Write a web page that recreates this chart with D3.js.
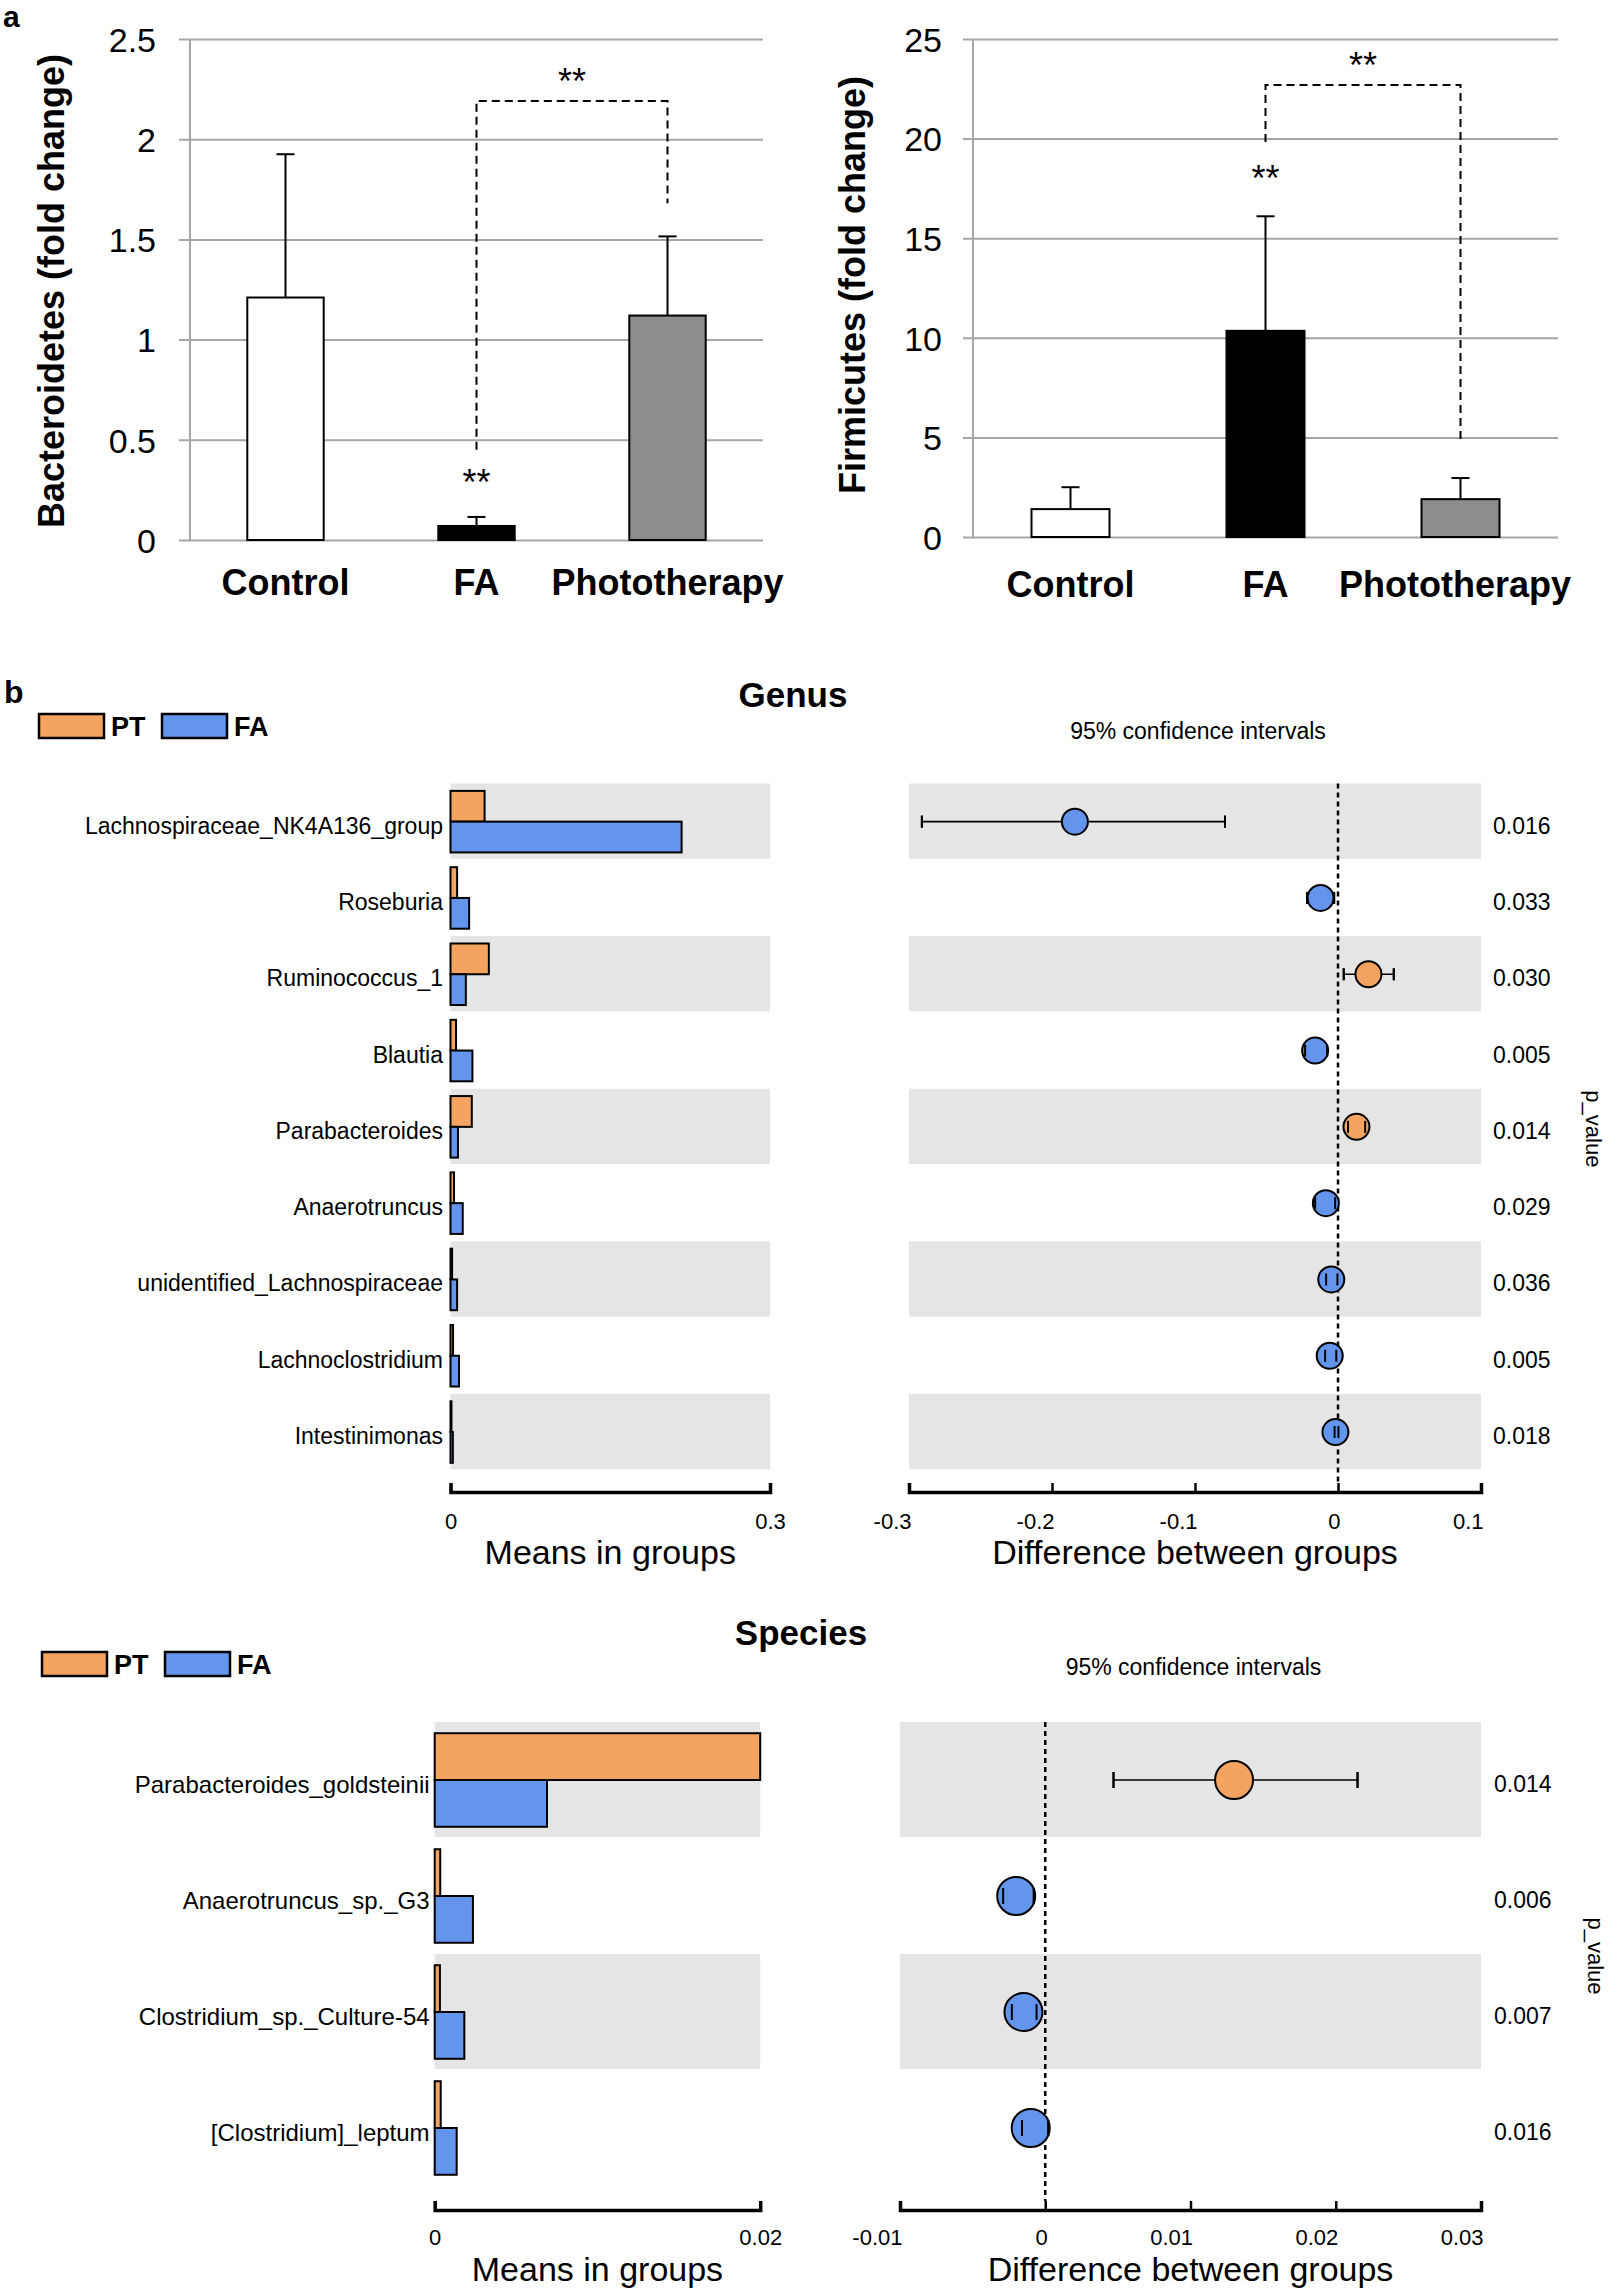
<!DOCTYPE html>
<html>
<head>
<meta charset="utf-8">
<script src="https://cdn.jsdelivr.net/npm/d3@7"></script>
<style>
  body { margin: 0; background: #fff; }
  svg { display: block; font-family: Arial, "Liberation Sans", sans-serif; }
</style>
</head>
<body>
<div id="chart"></div>
<script>
// ---- panel a: phylum fold changes
const groups = ["Control", "FA", "Phototherapy"];
const bactMean = [1.21, 0.07, 1.12];
const bactSD = [0.715, 0.045, 0.395];
const bactTicks = [0, 0.5, 1, 1.5, 2, 2.5];
const firmMean = [1.4, 10.35, 1.9];
const firmSD = [1.1, 5.75, 1.06];
const firmTicks = [0, 5, 10, 15, 20, 25];
// bracket: [from value at FA, top value, to value at Phototherapy]
const bactBracket = [0.45, 2.19, 1.68];
const firmBracket = [19.83, 22.69, 4.82];
// star annotations: [value above FA, value above bracket]
const bactStars = [0.31, 2.31];
const firmStars = [18.2, 23.9];

// ---- panel b: genus
const genusNames = ["Lachnospiraceae_NK4A136_group", "Roseburia", "Ruminococcus_1", "Blautia",
  "Parabacteroides", "Anaerotruncus", "unidentified_Lachnospiraceae", "Lachnoclostridium", "Intestinimonas"];
const genusPT = [0.032, 0.0062, 0.036, 0.0052, 0.020, 0.0033, 0.0015, 0.0024, 0.0009];
const genusFA = [0.217, 0.0175, 0.0144, 0.0206, 0.007, 0.0115, 0.0062, 0.008, 0.0022];
const genusDiff = [-0.184, -0.0122, 0.0213, -0.016, 0.0129, -0.0085, -0.0047, -0.0058, -0.0018];
const genusLo = [-0.291, -0.0216, 0.004, -0.023, 0.007, -0.016, -0.0083, -0.009, -0.0024];
const genusHi = [-0.079, -0.0027, 0.039, -0.0076, 0.019, -0.002, -0.0004, -0.0012, 0.0003];
const genusP = ["0.016", "0.033", "0.030", "0.005", "0.014", "0.029", "0.036", "0.005", "0.018"];
const genusMeanTicks = [0, 0.3];
const genusDiffTicks = [-0.3, -0.2, -0.1, 0, 0.1];

// ---- panel b: species
const speciesNames = ["Parabacteroides_goldsteinii", "Anaerotruncus_sp._G3", "Clostridium_sp._Culture-54", "[Clostridium]_leptum"];
const speciesPT = [0.0200, 0.00034, 0.00032, 0.00037];
const speciesFA = [0.0069, 0.00235, 0.00182, 0.00135];
const speciesDiff = [0.0130, -0.0020, -0.0015, -0.0010];
const speciesLo = [0.0047, -0.0029, -0.0023, -0.0016];
const speciesHi = [0.0215, -0.0008, -0.0006, 0.0002];
const speciesP = ["0.014", "0.006", "0.007", "0.016"];
const speciesMeanTicks = [0, 0.02];
const speciesDiffTicks = [-0.01, 0, 0.01, 0.02, 0.03];

const ORANGE = "#f4a460", BLUE = "#6495ed", BAND = "#e5e5e5", GRID = "#a6a6a6";

const svg = d3.select("#chart").append("svg")
    .attr("width", 1611)
    .attr("height", 2293);

function phylaChart(c) {
    const x = d3.scaleBand().domain(groups).range([c.x0, c.x1]).paddingInner(0.6).paddingOuter(0.3);
    const y = d3.scaleLinear().domain([0, c.ticks[c.ticks.length - 1]]).range([c.yBottom, c.yTop]);
    const g = svg.append("g");

    const ya = g.append("g")
        .attr("transform", `translate(${c.gridLeft},0)`)
        .call(d3.axisLeft(y).tickValues(c.ticks).tickSize(-(c.x1 - c.gridLeft)).tickPadding(c.gridLeft - c.labelX).tickFormat(d => d));
    ya.select(".domain").remove();
    ya.selectAll(".tick line").attr("stroke", GRID).attr("stroke-width", 2);
    ya.selectAll(".tick text").attr("font-size", 34).attr("fill", "#000").attr("dy", "0.36em");

    g.append("line")
        .attr("x1", c.x0).attr("x2", c.x0)
        .attr("y1", y.range()[1]).attr("y2", y.range()[0])
        .attr("stroke", GRID).attr("stroke-width", 2);

    const fills = ["#ffffff", "#000000", "#8c8c8c"];
    // error bars (upper only)
    g.selectAll(".err").data(groups).enter().append("line")
        .attr("x1", d => x(d) + x.bandwidth() / 2).attr("x2", d => x(d) + x.bandwidth() / 2)
        .attr("y1", (d, i) => y(c.means[i])).attr("y2", (d, i) => y(c.means[i] + c.sds[i]))
        .attr("stroke", "#000").attr("stroke-width", 2);
    g.selectAll(".cap").data(groups).enter().append("line")
        .attr("x1", d => x(d) + x.bandwidth() / 2 - 9).attr("x2", d => x(d) + x.bandwidth() / 2 + 9)
        .attr("y1", (d, i) => y(c.means[i] + c.sds[i])).attr("y2", (d, i) => y(c.means[i] + c.sds[i]))
        .attr("stroke", "#000").attr("stroke-width", 2);

    g.selectAll(".bar").data(groups).enter().append("rect")
        .attr("x", d => x(d))
        .attr("width", x.bandwidth())
        .attr("y", (d, i) => y(c.means[i]))
        .attr("height", (d, i) => y(0) - y(c.means[i]))
        .attr("fill", (d, i) => fills[i])
        .attr("stroke", "#000").attr("stroke-width", 2);

    g.selectAll(".xlab").data(groups).enter().append("text")
        .attr("x", d => x(d) + x.bandwidth() / 2)
        .attr("y", c.labelBaseline)
        .attr("text-anchor", "middle")
        .attr("font-size", 36).attr("font-weight", "bold")
        .text(d => d)
        .each(function () {
            // keep the label inside the figure's right margin
            const w = this.getComputedTextLength();
            const cx = +this.getAttribute("x");
            if (cx + w / 2 > c.labelMaxX) this.setAttribute("x", c.labelMaxX - w / 2);
        });

    g.append("text")
        .attr("transform", `translate(${c.titleX},${c.titleY}) rotate(-90)`)
        .attr("text-anchor", "middle").attr("dominant-baseline", "central")
        .attr("font-size", 36).attr("font-weight", "bold")
        .text(c.title);

    // significance bracket
    const fx = x("FA") + x.bandwidth() / 2, tx = x("Phototherapy") + x.bandwidth() / 2;
    g.append("path")
        .attr("d", `M${fx},${y(c.bracket[0])}V${y(c.bracket[1])}H${tx}V${y(c.bracket[2])}`)
        .attr("fill", "none").attr("stroke", "#000").attr("stroke-width", 2)
        .attr("stroke-dasharray", "8,5");
    g.append("text")
        .attr("x", fx).attr("y", y(c.stars[0]) + 17)
        .attr("text-anchor", "middle").attr("font-size", 36).text("**");
    g.append("text")
        .attr("x", (fx + tx) / 2).attr("y", y(c.stars[1]) + 17)
        .attr("text-anchor", "middle").attr("font-size", 36).text("**");
}

phylaChart({ means: bactMean, sds: bactSD, ticks: bactTicks, x0: 190, x1: 763, gridLeft: 179, labelX: 156,
    yBottom: 540, yTop: 39, title: "Bacteroidetes (fold change)", titleX: 51, titleY: 291, labelBaseline: 595,
    labelMaxX: 785, bracket: bactBracket, stars: bactStars });
phylaChart({ means: firmMean, sds: firmSD, ticks: firmTicks, x0: 973, x1: 1558, gridLeft: 963, labelX: 942,
    yBottom: 537, yTop: 39, title: "Firmicutes (fold change)", titleX: 852, titleY: 285, labelBaseline: 597,
    labelMaxX: 1571, bracket: firmBracket, stars: firmStars });

svg.append("text").attr("x", 3).attr("y", 27).attr("font-size", 30).attr("font-weight", "bold").text("a");
svg.append("text").attr("x", 4).attr("y", 703).attr("font-size", 32).attr("font-weight", "bold").text("b");

function diffPanel(c) {
    const n = c.names.length;
    const g = svg.append("g");
    const y = d3.scaleBand().domain(c.names).range([c.rowTop, c.rowTop + c.rowStep * n]).padding(0);
    const inner = d3.scaleBand().domain(["PT", "FA"]).range([0, y.bandwidth()]).paddingInner(0).paddingOuter(0.24);
    const xl = d3.scaleLinear().domain(c.meanTicks).range(c.leftRange);
    const xr = d3.scaleLinear().domain([c.diffTicks[0], c.diffTicks[c.diffTicks.length - 1]]).range(c.rightRange);
    const mid = d => y(d) + y.bandwidth() / 2;

    // title, legend, CI caption
    g.append("text").attr("x", c.titleX).attr("y", c.titleY).attr("text-anchor", "middle")
        .attr("font-size", 35).attr("font-weight", "bold").text(c.title);
    const leg = [["PT", ORANGE], ["FA", BLUE]];
    g.selectAll(".legbox").data(leg).enter().append("rect")
        .attr("x", (d, i) => c.legX + i * 123).attr("y", c.legY)
        .attr("width", 65).attr("height", 24)
        .attr("fill", d => d[1]).attr("stroke", "#000").attr("stroke-width", 2.5);
    g.selectAll(".legtext").data(leg).enter().append("text")
        .attr("x", (d, i) => c.legX + 72 + i * 123).attr("y", c.legY + 22)
        .attr("font-size", 27).attr("font-weight", "bold").text(d => d[0]);
    g.append("text").attr("x", (c.rightRange[0] + c.rightRange[1]) / 2 + 3).attr("y", c.ciY)
        .attr("text-anchor", "middle").attr("font-size", 23).text("95% confidence intervals");

    // grey row bands
    const banded = c.names.filter((d, i) => i % 2 === 0);
    [c.leftRange, c.rightRange].forEach(r => {
        g.selectAll(null).data(banded).enter().append("rect")
            .attr("x", r[0]).attr("width", r[1] - r[0])
            .attr("y", d => y(d)).attr("height", y.bandwidth() - 1)
            .attr("fill", BAND);
    });

    // mean bars
    const bars = [];
    c.names.forEach((d, i) => {
        bars.push({ name: d, grp: "PT", v: c.pt[i] });
        bars.push({ name: d, grp: "FA", v: c.fa[i] });
    });
    g.selectAll(".mbar").data(bars).enter().append("rect")
        .attr("x", xl(0))
        .attr("width", d => Math.max(xl(d.v) - xl(0), 0.5))
        .attr("y", d => y(d.name) + inner(d.grp))
        .attr("height", inner.bandwidth())
        .attr("fill", d => d.grp === "PT" ? ORANGE : BLUE)
        .attr("stroke", "#000").attr("stroke-width", 2);

    g.selectAll(".rlab").data(c.names).enter().append("text")
        .attr("x", c.labelX).attr("y", d => mid(d) + 4)
        .attr("text-anchor", "end").attr("dominant-baseline", "central")
        .attr("font-size", c.labelSize).text(d => d);

    // zero line
    g.append("line")
        .attr("x1", xr(0)).attr("x2", xr(0))
        .attr("y1", c.rowTop).attr("y2", c.axisY - 9)
        .attr("stroke", "#000").attr("stroke-width", 2.5).attr("stroke-dasharray", "5,4");

    // CI error bars + points
    const caps = sel => sel.each(function (d, i) {
        const s = d3.select(this);
        [c.lo[i], c.hi[i]].forEach(v => {
            s.append("line").attr("x1", xr(v)).attr("x2", xr(v))
                .attr("y1", mid(d) - c.capH).attr("y2", mid(d) + c.capH)
                .attr("stroke", "#000").attr("stroke-width", 2);
        });
    });
    const ci = g.selectAll(".ci").data(c.names).enter().append("g");
    ci.append("line")
        .attr("x1", (d, i) => xr(c.lo[i])).attr("x2", (d, i) => xr(c.hi[i]))
        .attr("y1", mid).attr("y2", mid)
        .attr("stroke", "#000").attr("stroke-width", 1.6);
    ci.call(caps);
    ci.append("circle")
        .attr("cx", (d, i) => xr(c.diff[i])).attr("cy", mid).attr("r", c.r)
        .attr("fill", (d, i) => c.diff[i] > 0 ? ORANGE : BLUE)
        .attr("stroke", "#000").attr("stroke-width", 2);
    const top = g.selectAll(".captop").data(c.names).enter().append("g");
    top.call(caps);

    // p-values
    g.selectAll(".pv").data(c.names).enter().append("text")
        .attr("x", c.pX).attr("y", d => mid(d) + 4)
        .attr("dominant-baseline", "central").attr("font-size", 23)
        .text((d, i) => c.p[i]);
    g.append("text")
        .attr("transform", `translate(${c.pLabX},${c.rowTop + c.rowStep * n / 2 + 2}) rotate(90)`)
        .attr("text-anchor", "middle").attr("dominant-baseline", "central")
        .attr("font-size", 22).text("p_value");

    // axes
    const styleAxis = (a, anchor, dx) => {
        a.select(".domain").attr("stroke", "#000").attr("stroke-width", 3.5);
        a.selectAll(".tick line").attr("stroke", "#000").attr("stroke-width", 2.5);
        a.selectAll(".tick text").attr("font-size", 22).attr("fill", "#000")
            .attr("y", c.tickBase).attr("dy", null)
            .attr("text-anchor", anchor).attr("dx", dx);
    };
    const al = g.append("g").attr("transform", `translate(0,${c.axisY})`)
        .call(d3.axisBottom(xl).tickValues(c.meanTicks).tickSizeInner(-9).tickSizeOuter(-9).tickFormat(d => d));
    styleAxis(al, "middle", 0);
    const ar = g.append("g").attr("transform", `translate(0,${c.axisY})`)
        .call(d3.axisBottom(xr).tickValues(c.diffTicks).tickSizeInner(-9).tickSizeOuter(-9).tickFormat(d => d));
    styleAxis(ar, "end", 2);

    g.append("text").attr("x", (c.leftRange[0] + c.leftRange[1]) / 2).attr("y", c.titleBase)
        .attr("text-anchor", "middle").attr("font-size", 34).text("Means in groups");
    g.append("text").attr("x", (c.rightRange[0] + c.rightRange[1]) / 2).attr("y", c.titleBase)
        .attr("text-anchor", "middle").attr("font-size", 34).text("Difference between groups");
}

diffPanel({ names: genusNames, pt: genusPT, fa: genusFA, diff: genusDiff, lo: genusLo, hi: genusHi, p: genusP,
    meanTicks: genusMeanTicks, diffTicks: genusDiffTicks,
    rowTop: 783.5, rowStep: 76.3, leftRange: [450.5, 770], rightRange: [909, 1481], labelX: 443, labelSize: 23,
    axisY: 1492, tickBase: 37, titleBase: 1564, r: 13, capH: 6, pX: 1493, pLabX: 1593,
    title: "Genus", titleX: 793, titleY: 707, legX: 39, legY: 714, ciY: 739 });

diffPanel({ names: speciesNames, pt: speciesPT, fa: speciesFA, diff: speciesDiff, lo: speciesLo, hi: speciesHi, p: speciesP,
    meanTicks: speciesMeanTicks, diffTicks: speciesDiffTicks,
    rowTop: 1722, rowStep: 116, leftRange: [434.7, 760.2], rightRange: [900, 1481], labelX: 429.6, labelSize: 24,
    axisY: 2210, tickBase: 35, titleBase: 2281, r: 19, capH: 8, pX: 1494, pLabX: 1595,
    title: "Species", titleX: 801, titleY: 1645, legX: 42, legY: 1652, ciY: 1675 });
</script>
</body>
</html>
